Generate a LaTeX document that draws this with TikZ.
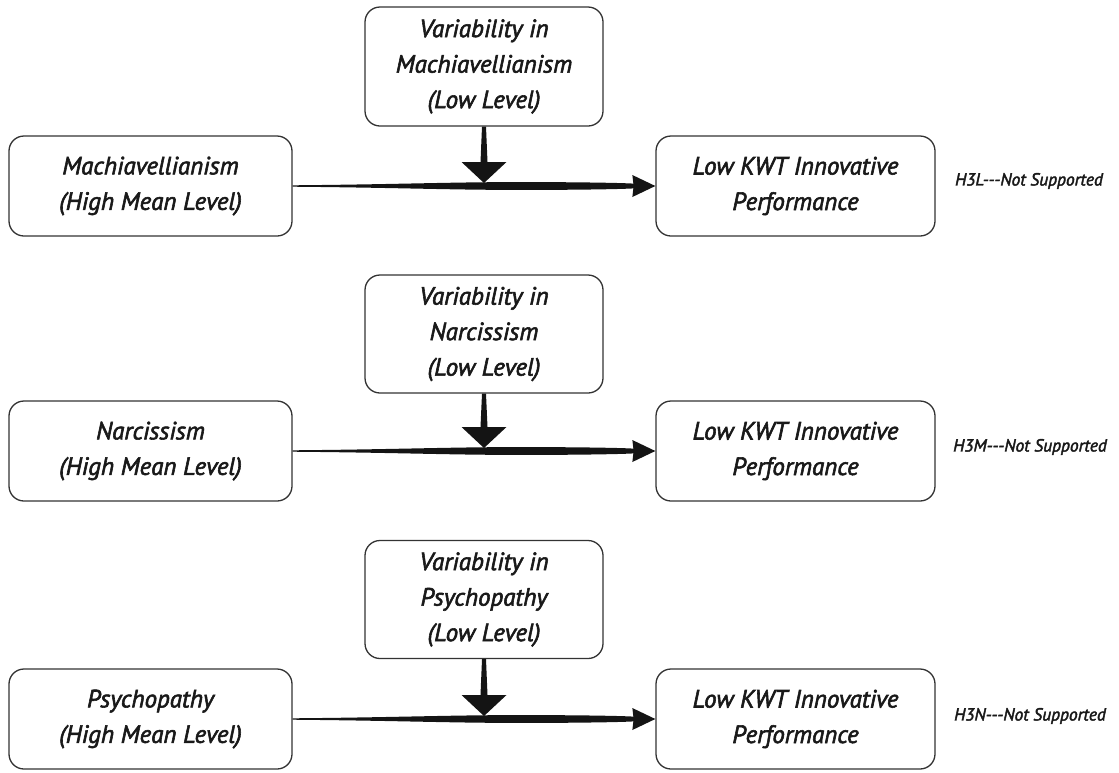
\documentclass[tikz,border=0pt]{standalone}
\usepackage{fontspec}
\newfontfamily\dfont{PT Sans}[ItalicFeatures={FakeBold=2.3}]
\usetikzlibrary{calc}

\tikzset{
  ink/.style={fill=black!92},
  panelbox/.style={draw=black!80, line width=1.3pt, rounded corners=15pt,
    align=center, inner sep=0pt, text=black!90,
    font=\dfont\itshape\fontsize{25}{35.5}\selectfont},
  hyplabel/.style={inner sep=0pt, text=black!90,
    font=\dfont\itshape\fontsize{17.5}{20}\selectfont},
}

% tapered path from the predictor box to the outcome box, with its arrow head
\newcommand{\mainlink}[2]{%
  \fill[ink] let \p1=(#1.east), \p2=(#2.west), \n1={\x2-\x1} in
    (\x1,\y1+0.7pt)
    .. controls (\x1+0.25*\n1,\y1+1.5pt) and (\x1+0.4*\n1,\y1+3.4pt) .. (\x1+0.55*\n1,\y1+3.8pt)
    .. controls (\x1+0.7*\n1,\y1+4.2pt) and (\x2-40pt,\y1+3.5pt) .. (\x2-22pt,\y1+2.4pt)
    -- (\x2-23pt,\y1+11pt) -- (\x2,\y1) -- (\x2-23pt,\y1-11pt) -- (\x2-22pt,\y1-2.4pt)
    .. controls (\x2-40pt,\y1-3.5pt) and (\x1+0.7*\n1,\y1-4.2pt) .. (\x1+0.55*\n1,\y1-3.8pt)
    .. controls (\x1+0.4*\n1,\y1-3.4pt) and (\x1+0.25*\n1,\y1-1.5pt) .. (\x1,\y1-0.7pt)
    -- cycle;
}

% block arrow from the moderator box down onto the main path
\newcommand{\modlink}[2]{%
  \fill[ink] let \p1=(#1.south), \p2=(#2.east) in
    (\x1-2pt,\y1) -- (\x1+2pt,\y1) -- (\x1+3.5pt,\y2+24pt) -- (\x1+22.5pt,\y2+24pt)
    -- (\x1,\y2+3pt) -- (\x1-22.5pt,\y2+24pt) -- (\x1-3.5pt,\y2+24pt) -- cycle;
}

\begin{document}
\begin{tikzpicture}[x=1pt,y=-1pt]
\useasboundingbox (0,0) rectangle (1119,772);

% Machiavellianism
\node[panelbox, minimum width=238pt, minimum height=119pt] (m1) at (484,66.5)
  {Variability in\\Machiavellianism\\(Low Level)};
\node[panelbox, minimum width=283pt, minimum height=100pt] (x1) at (150.5,186)
  {Machiavellianism\\(High Mean Level)};
\node[panelbox, minimum width=279pt, minimum height=100pt] (y1) at (795.5,186)
  {Low KWT Innovative\\Performance};
\node[hyplabel] (h1) at (1029,181) {H3L---Not Supported};
\mainlink{x1}{y1}
\modlink{m1}{x1}

% Narcissism
\node[panelbox, minimum width=238pt, minimum height=118pt] (m2) at (484,334)
  {Variability in\\Narcissism\\(Low Level)};
\node[panelbox, minimum width=283pt, minimum height=100pt] (x2) at (150.5,451)
  {Narcissism\\(High Mean Level)};
\node[panelbox, minimum width=279pt, minimum height=100pt] (y2) at (795.5,451)
  {Low KWT Innovative\\Performance};
\node[hyplabel] (h2) at (1030,447) {H3M---Not Supported};
\mainlink{x2}{y2}
\modlink{m2}{x2}

% Psychopathy
\node[panelbox, minimum width=238pt, minimum height=118pt] (m3) at (484,599.5)
  {Variability in\\Psychopathy\\(Low Level)};
\node[panelbox, minimum width=283pt, minimum height=100pt] (x3) at (150.5,719)
  {Psychopathy\\(High Mean Level)};
\node[panelbox, minimum width=279pt, minimum height=100pt] (y3) at (795.5,719)
  {Low KWT Innovative\\Performance};
\node[hyplabel] (h3) at (1030,716) {H3N---Not Supported};
\mainlink{x3}{y3}
\modlink{m3}{x3}
\end{tikzpicture}
\end{document}
